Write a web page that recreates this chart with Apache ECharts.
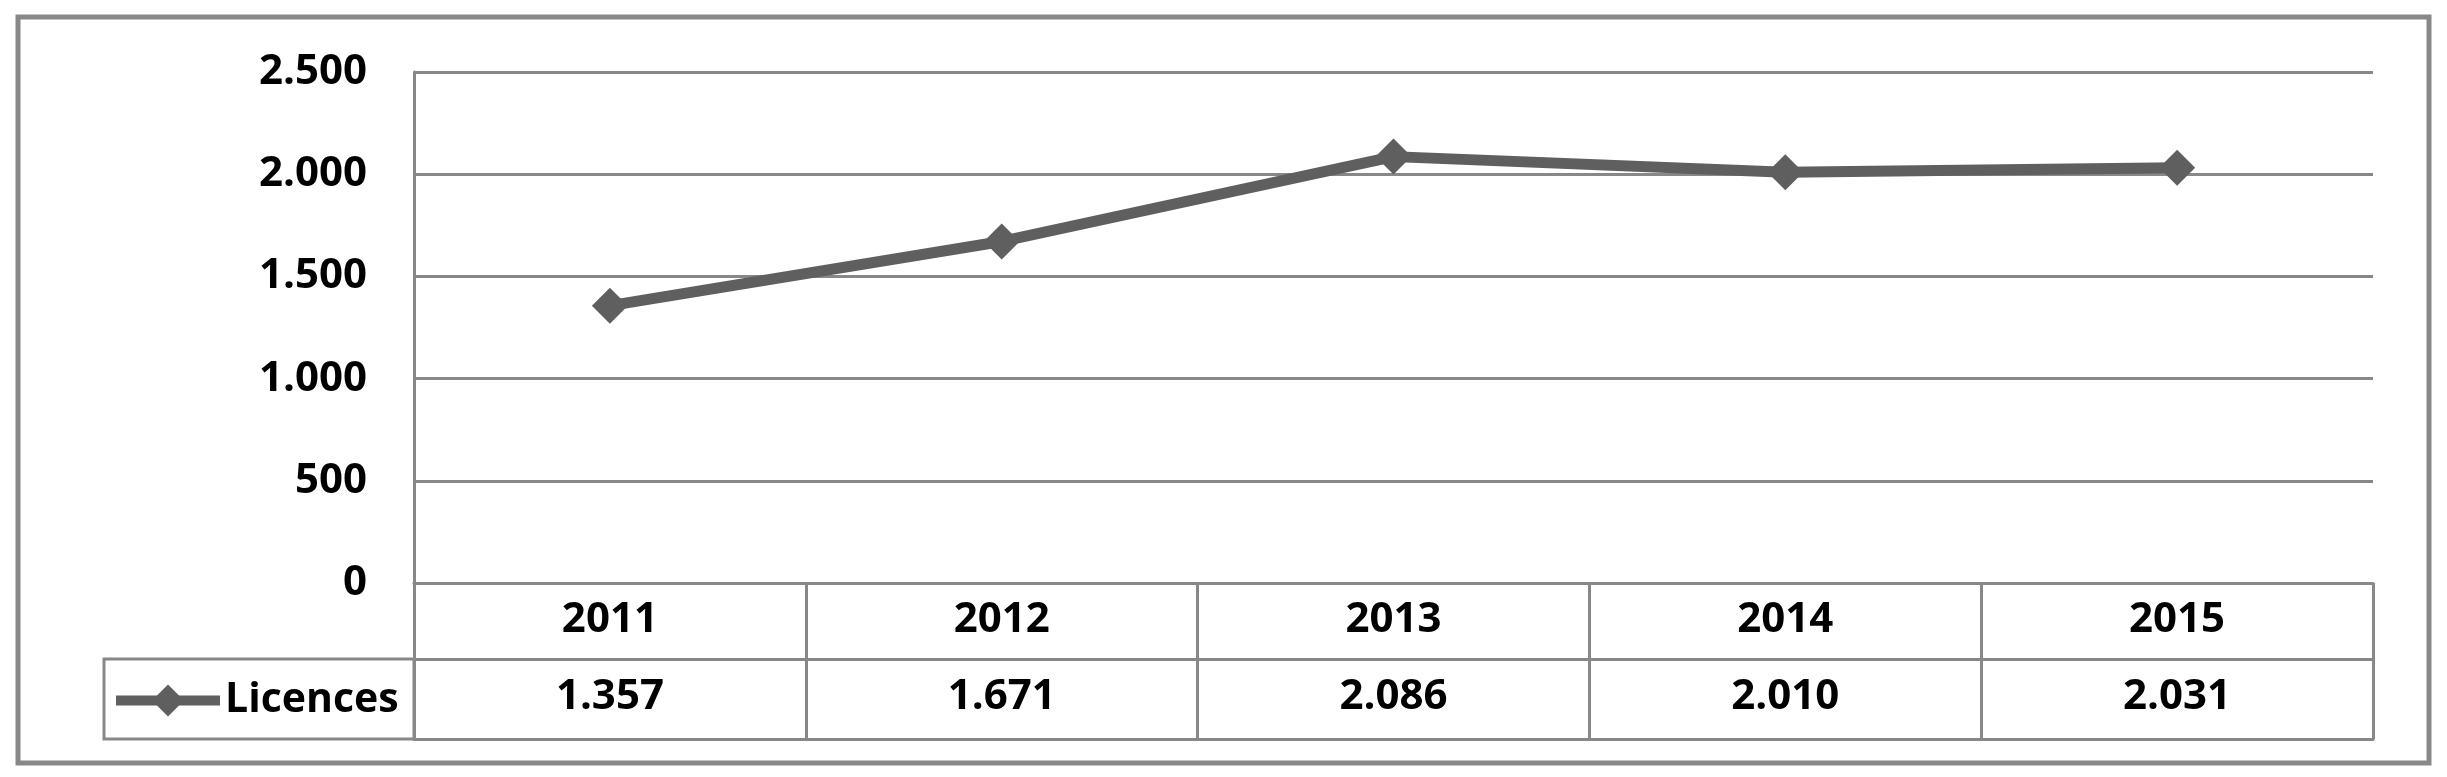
<!DOCTYPE html>
<html>
<head>
<meta charset="utf-8">
<script src="https://cdn.jsdelivr.net/npm/echarts@6/dist/echarts.min.js"></script>
<style>
  html, body { margin: 0; padding: 0; background: #fff; }
  #main { width: 2447px; height: 777px; }
</style>
</head>
<body>
<div id="main"></div>
<script>
var years = ['2011', '2012', '2013', '2014', '2015'];
var licences = [1357, 1671, 2086, 2010, 2031];
var yTicks = [0, 500, 1000, 1500, 2000, 2500];
var seriesName = 'Licences';

var gray = '#888888';
var lineGray = '#5f5f5f';
var font = '"Open Sans", "Liberation Sans", sans-serif';

// 1357 -> "1.357"
function fmt(v) {
  return String(v).replace(/\B(?=(\d{3})+(?!\d))/g, '.');
}

var myChart = echarts.init(document.getElementById('main'));

var option = {
  animation: false,
  backgroundColor: '#fff',
  textStyle: { fontFamily: font },
  grid: { left: 414, right: 74, top: 72, bottom: 194 },
  legend: {
    data: [seriesName],
    left: 106,
    top: 675,
    itemWidth: 104,
    itemHeight: 40,
    itemGap: 6,
    lineStyle: { width: 10, color: lineGray },
    textStyle: { fontSize: 41, fontWeight: 'bold', color: '#000', fontFamily: font }
  },
  xAxis: [{
    type: 'category',
    data: years,
    boundaryGap: true,
    axisLine: { show: true, lineStyle: { color: gray, width: 3 } },
    axisTick: { show: true, interval: 0, length: 156, lineStyle: { color: gray, width: 3 } },
    axisLabel: { interval: 0, margin: 16, fontSize: 42, fontWeight: 'bold', color: '#000', fontFamily: font },
    splitLine: { show: false }
  }, {
    // values row of the data table
    type: 'category',
    data: years,
    position: 'bottom',
    offset: 76,
    boundaryGap: true,
    axisLine: { show: true, lineStyle: { color: gray, width: 3 } },
    axisTick: { show: false },
    axisLabel: {
      interval: 0, margin: 17, fontSize: 42, fontWeight: 'bold', color: '#000', fontFamily: font,
      formatter: function (v, i) { return fmt(licences[i]); }
    }
  }, {
    type: 'category',
    data: years,
    position: 'bottom',
    offset: 156,
    axisLine: { show: true, lineStyle: { color: gray, width: 3 } },
    axisTick: { show: false },
    axisLabel: { show: false }
  }],
  yAxis: {
    type: 'value',
    min: yTicks[0],
    max: yTicks[yTicks.length - 1],
    interval: 500,
    axisLine: { show: true, lineStyle: { color: gray, width: 3 } },
    axisTick: { show: false },
    axisLabel: {
      margin: 47, fontSize: 42, fontWeight: 'bold', color: '#000', fontFamily: font,
      formatter: function (v) { return fmt(v); }
    },
    splitLine: { show: true, lineStyle: { color: gray, width: 3 } }
  },
  series: [{
    name: seriesName,
    type: 'line',
    data: licences,
    symbol: 'diamond',
    symbolSize: 36,
    lineStyle: { color: lineGray, width: 11 },
    itemStyle: { color: lineGray },
    z: 5
  }],
  graphic: [{
    // outer chart border
    type: 'rect',
    shape: { x: 18, y: 17, width: 2411, height: 746 },
    style: { fill: 'none', stroke: gray, lineWidth: 5 },
    silent: true
  }, {
    // legend key cell of the data table
    type: 'rect',
    shape: { x: 104, y: 659, width: 310, height: 80 },
    style: { fill: 'none', stroke: gray, lineWidth: 3 },
    silent: true
  }]
};

myChart.setOption(option);
</script>
</body>
</html>
